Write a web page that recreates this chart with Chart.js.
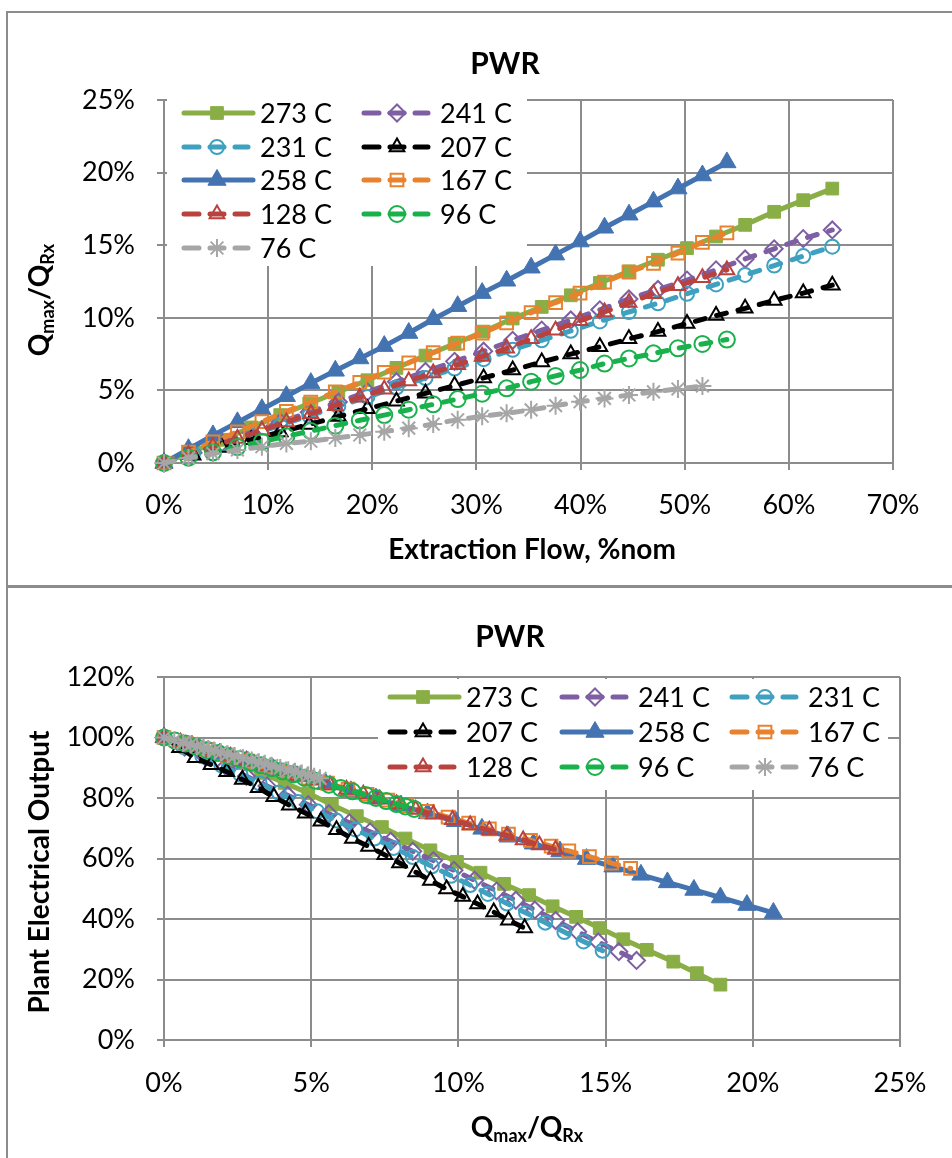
<!DOCTYPE html>
<html><head><meta charset="utf-8">
<script src="https://cdn.jsdelivr.net/npm/chart.js@4.4.1/dist/chart.umd.min.js"></script>
<style>
html,body{margin:0;padding:0;background:#fff;width:952px;height:1158px;overflow:hidden;}
.frame{position:absolute;box-sizing:border-box;border:2px solid #8c8c8c;}
canvas{position:absolute;left:0;}
</style></head><body>
<div class="frame" style="left:6px;top:11px;width:960px;height:577px"></div>
<div class="frame" style="left:6px;top:585px;width:960px;height:600px"></div>
<canvas id="c1" width="952" height="585" style="top:0"></canvas>
<canvas id="c2" width="952" height="570" style="top:588px"></canvas>
<script>
// ---------------- data ----------------
const seriesLabels = ['273 C','241 C','231 C','207 C','258 C','167 C','128 C','96 C','76 C'];

// extraction flow (% nom) — x values of the upper chart
const flowA = [0,2.35,4.7,7.05,9.4,11.75,14.1,16.45,18.8,21.15,23.5,25.85,28.2,30.55,32.9,35.25,37.6,39.95,42.3,44.65,47.0,49.35,51.7,54.05];
const flowB = [0,2.79,5.58,8.37,11.16,13.95,16.74,19.53,22.32,25.11,27.9,30.69,33.48,36.27,39.06,41.85,44.64,47.43,50.22,53.01,55.8,58.59,61.38,64.17];
const flowC = [0,2.35,4.7,7.05,9.4,11.75,14.1,16.45,18.8,21.15,23.5,25.85,28.2,30.55,32.9,35.25,37.6,39.95,42.3,44.65,47.0,49.35,51.7];

// Qmax/QRx (%)
const q273 = [0,0.8,1.6,2.45,3.3,4.1,4.9,5.7,6.55,7.4,8.2,9.05,9.95,10.75,11.55,12.4,13.2,14.0,14.8,15.6,16.4,17.3,18.1,18.9];
const q241 = [0,0.7,1.4,2.1,2.8,3.5,4.2,4.9,5.6,6.3,7.0,7.7,8.45,9.15,9.85,10.55,11.3,11.95,12.6,13.3,14.05,14.75,15.45,16.05];
const q231 = [0,0.65,1.3,1.95,2.6,3.25,3.9,4.55,5.2,5.85,6.5,7.15,7.8,8.45,9.1,9.75,10.4,11.0,11.65,12.3,12.95,13.6,14.25,14.9];
const q207 = [0,0.53,1.06,1.6,2.13,2.66,3.2,3.73,4.26,4.8,5.33,5.86,6.4,6.95,7.5,8.0,8.55,9.05,9.6,10.15,10.65,11.2,11.7,12.25];
const q258 = [0,0.95,1.9,2.8,3.7,4.6,5.5,6.35,7.2,8.05,8.95,9.9,10.8,11.7,12.55,13.45,14.35,15.25,16.2,17.1,18.0,18.9,19.8,20.7];
const q167 = [0,0.75,1.45,2.15,2.85,3.55,4.2,4.9,5.55,6.25,6.9,7.6,8.25,8.95,9.65,10.35,11.05,11.7,12.45,13.15,13.75,14.45,15.2,15.85];
const q128 = [0,0.56,1.13,1.69,2.26,2.82,3.39,3.95,4.52,5.08,5.64,6.2,6.77,7.33,7.9,8.55,9.15,9.8,10.4,11.05,11.65,12.2,12.75,13.3];
const q96  = [0,0.37,0.73,1.1,1.47,1.84,2.2,2.57,2.94,3.3,3.67,4.04,4.4,4.77,5.14,5.6,6.0,6.4,6.85,7.2,7.55,7.9,8.2,8.5];
const q76  = [0,0.35,0.65,0.9,1.12,1.35,1.5,1.72,1.93,2.16,2.4,2.68,2.98,3.22,3.42,3.66,3.95,4.22,4.45,4.68,4.9,5.1,5.3];

// plant electrical output (%)
const p273 = [100,97.2,94.4,91.5,88.3,85.0,81.6,77.8,74.0,70.4,66.6,62.7,58.9,55.3,51.6,47.9,44.2,40.7,37.0,33.3,29.8,25.9,22.1,18.3];
const p241 = [100,96.8,93.6,90.4,87.2,84.0,80.9,77.8,74.8,71.8,68.8,65.7,62.4,59.3,56.1,52.8,49.3,46.2,43.0,39.5,35.8,32.4,29.2,26.3];
const p231 = [100,96.9,93.8,90.8,87.8,84.8,81.7,78.7,75.6,72.6,69.6,66.6,63.5,60.5,57.4,54.3,51.2,48.3,45.1,42.0,38.8,35.7,32.6,29.5];
const p207 = [100,96.6,93.3,91.0,88.7,86.1,83.4,80.4,77.6,75.0,72.3,69.5,66.6,64.0,61.2,58.5,55.5,52.7,49.9,47.4,45.0,42.3,39.6,37.0];
const p258 = [100,97.3,94.7,92.2,89.6,87.1,84.6,82.2,79.8,77.5,74.9,72.3,69.8,67.2,64.9,62.3,59.8,57.3,54.6,52.1,49.6,47.1,44.6,42.0];
const p167 = [100,98.0,96.0,94.1,92.2,90.3,88.5,86.6,84.9,82.9,81.2,79.3,77.5,75.6,73.7,71.7,69.8,68.1,66.0,64.1,62.5,60.6,58.5,56.7];
const p128 = [100,98.4,96.9,95.3,93.7,92.2,90.6,89.0,87.4,85.9,84.3,82.8,81.2,79.6,78.0,76.2,74.6,72.8,71.1,69.3,67.6,66.1,64.5,63.0];
const p96  = [100,99.0,98.0,96.9,95.9,94.9,93.9,92.9,91.8,90.8,89.8,88.8,87.8,86.7,85.7,84.4,83.3,82.2,81.0,80.0,79.0,78.0,77.2,76.4];
const p76  = [100,99.1,98.3,97.7,97.1,96.6,96.2,95.6,95.1,94.5,93.9,93.2,92.4,91.8,91.3,90.7,89.9,89.2,88.7,88.1,87.5,87.0,86.5];

// tick values
const topXTicks = [0,10,20,30,40,50,60,70];
const topYTicks = [0,5,10,15,20,25];
const botXTicks = [0,5,10,15,20,25];
const botYTicks = [0,20,40,60,80,100,120];

// ---------------- styles ----------------
const flows = [flowB,flowB,flowB,flowB,flowA,flowA,flowA,flowA,flowC];
const qs = [q273,q241,q231,q207,q258,q167,q128,q96,q76];
const ps = [p273,p241,p231,p207,p258,p167,p128,p96,p76];
const styles = [
  {color:'#8AAE46', dash:false, shape:'rect',     r:9,   fill:true},
  {color:'#7E5FA3', dash:true,  shape:'rectRot',  r:8.5, fill:false},
  {color:'#3FA0BF', dash:true,  shape:'circle',   r:7,   fill:false},
  {color:'#000000', dash:true,  shape:'triangle', r:8.5, fill:false},
  {color:'#4473B2', dash:false, shape:'triangle', r:10.5,fill:true},
  {color:'#E9822F', dash:true,  shape:'rect',     r:9,   fill:false},
  {color:'#B9423F', dash:true,  shape:'triangle', r:8.5, fill:false},
  {color:'#19B14C', dash:true,  shape:'circle',   r:8,   fill:false},
  {color:'#A6A6A6', dash:true,  shape:'star',     r:9,   fill:false}
];
const FONT = 'Lato';
const GRID = '#8c8c8c';

function makeDatasets(xsArr, ysArr) {
  return seriesLabels.map((lab, i) => {
    const s = styles[i];
    const xs = xsArr[i], ys = ysArr[i];
    return {
      label: lab,
      data: ys.map((y, k) => ({x: xs[k], y: y})),
      borderColor: s.color, backgroundColor: s.color,
      borderWidth: 5, borderDash: s.dash ? [10, 12] : [],
      borderCapStyle: 'round', borderJoinStyle: 'round',
      pointStyle: s.shape, pointRadius: s.r, pointHoverRadius: s.r,
      pointBorderColor: s.color,
      pointBackgroundColor: s.fill ? s.color : 'rgba(0,0,0,0)',
      pointBorderWidth: s.fill ? 1 : 2,
      showLine: true, tension: 0, clip: false, order: seriesLabels.length - 1 - i
    };
  });
}

function drawMarker(ctx, s, x, y) {
  ctx.save();
  ctx.setLineDash([]);
  ctx.strokeStyle = s.color;
  ctx.fillStyle = s.fill ? s.color : 'rgba(0,0,0,0)';
  ctx.lineWidth = s.fill ? 1 : 2;
  Chart.helpers.drawPoint(ctx, {pointStyle: s.shape, radius: s.r, rotation: 0, borderWidth: ctx.lineWidth}, x, y);
  ctx.restore();
}

function drawSub(ctx, parts, cx, cy, rotate) {
  ctx.save();
  ctx.translate(cx, cy);
  if (rotate) ctx.rotate(-Math.PI / 2);
  ctx.fillStyle = '#000';
  ctx.textBaseline = 'middle';
  ctx.textAlign = 'left';
  const mainF = 'bold 28px ' + FONT, subF = 'bold 18px ' + FONT;
  let W = 0;
  parts.forEach(p => { ctx.font = p[1] ? subF : mainF; W += ctx.measureText(p[0]).width; });
  let x = -W / 2;
  parts.forEach(p => {
    ctx.font = p[1] ? subF : mainF;
    ctx.fillText(p[0], x, p[1] ? 8 : 0);
    x += ctx.measureText(p[0]).width;
  });
  ctx.restore();
}

function decorPlugin(cfg) {
  return {
    id: 'decor' + cfg.key,
    beforeDatasetsDraw(chart) {
      const ctx = chart.ctx;
      ctx.save();
      const b = cfg.legendBox;
      ctx.fillStyle = '#fff';
      ctx.fillRect(b[0], b[1], b[2] - b[0], b[3] - b[1]);
      seriesLabels.forEach((lab, i) => {
        const col = i % cfg.cols, row = Math.floor(i / cfg.cols);
        const x0 = cfg.colX[col], y = cfg.rowY[row];
        const s = styles[i];
        ctx.save();
        ctx.strokeStyle = s.color;
        ctx.lineWidth = 5;
        ctx.lineCap = 'round';
        ctx.beginPath();
        if (s.dash) {
          ctx.moveTo(x0 + 2, y); ctx.lineTo(x0 + 17, y);
          ctx.moveTo(x0 + 28, y); ctx.lineTo(x0 + 42, y);
          ctx.moveTo(x0 + 53, y); ctx.lineTo(x0 + 66, y);
        } else {
          ctx.moveTo(x0 + 2, y); ctx.lineTo(x0 + 71, y);
        }
        ctx.stroke();
        ctx.restore();
        drawMarker(ctx, s, x0 + 35, y);
        ctx.fillStyle = '#000';
        ctx.font = '27px ' + FONT;
        ctx.textBaseline = 'middle';
        ctx.textAlign = 'left';
        ctx.fillText(lab, x0 + 78, y + 1);
      });
      ctx.fillStyle = '#000';
      ctx.font = 'bold 30px ' + FONT;
      ctx.textAlign = 'center';
      ctx.textBaseline = 'middle';
      ctx.fillText('PWR', cfg.title[0], cfg.title[1]);
      if (cfg.xTitle.parts) drawSub(ctx, cfg.xTitle.parts, cfg.xTitle.pos[0], cfg.xTitle.pos[1], false);
      else { ctx.font = 'bold 28px ' + FONT; ctx.fillText(cfg.xTitle.text, cfg.xTitle.pos[0], cfg.xTitle.pos[1]); }
      if (cfg.yTitle.parts) drawSub(ctx, cfg.yTitle.parts, cfg.yTitle.pos[0], cfg.yTitle.pos[1], true);
      else {
        ctx.save();
        ctx.translate(cfg.yTitle.pos[0], cfg.yTitle.pos[1]);
        ctx.rotate(-Math.PI / 2);
        ctx.font = 'bold 28px ' + FONT;
        ctx.textAlign = 'center'; ctx.textBaseline = 'middle';
        ctx.fillText(cfg.yTitle.text, 0, 0);
        ctx.restore();
      }
      ctx.restore();
    }
  };
}

function axis(min, max, ticks, padding, fit, horizontal) {
  return {
    type: 'linear', min: min, max: max,
    afterBuildTicks: sc => { sc.ticks = ticks.map(v => ({value: v})); },
    afterFit: sc => { if (horizontal) sc.height = fit; else sc.width = fit; },
    ticks: {callback: v => v + '%', font: {family: FONT, size: 27}, color: '#000', padding: padding, maxRotation: 0, autoSkip: false},
    grid: {color: GRID, lineWidth: 2, tickLength: 7, tickWidth: 2},
    border: {color: GRID, width: 2}
  };
}

Chart.defaults.font.family = FONT;

new Chart(document.getElementById('c1'), {
  type: 'scatter',
  data: {datasets: makeDatasets(flows, qs)},
  options: {
    responsive: false, animation: false,
    layout: {padding: {top: 100, right: 59, left: 0, bottom: 0}},
    plugins: {legend: {display: false}, tooltip: {enabled: false}},
    scales: {
      x: axis(0, 70, topXTicks, 19, 122, true),
      y: axis(0, 25, topYTicks, 22, 164, false)
    }
  },
  plugins: [decorPlugin({
    key: 1, cols: 2, legendBox: [167, 97, 527, 266],
    colX: [182, 362], rowY: [113, 147, 180, 214, 248],
    title: [505, 64],
    xTitle: {text: 'Extraction Flow, %nom', pos: [532, 550]},
    yTitle: {parts: [['Q', false], ['max', true], ['/Q', false], ['Rx', true]], pos: [40, 300]}
  })]
});

new Chart(document.getElementById('c2'), {
  type: 'scatter',
  data: {datasets: makeDatasets(qs, ps)},
  options: {
    responsive: false, animation: false,
    layout: {padding: {top: 89, right: 52, left: 0, bottom: 0}},
    plugins: {legend: {display: false}, tooltip: {enabled: false}},
    scales: {
      x: axis(0, 25, botXTicks, 20, 118, true),
      y: axis(0, 120, botYTicks, 22, 164, false)
    }
  },
  plugins: [decorPlugin({
    key: 2, cols: 3, legendBox: [378, 91, 888, 202],
    colX: [388, 560, 730], rowY: [109, 144, 179],
    title: [510, 49],
    xTitle: {parts: [['Q', false], ['max', true], ['/Q', false], ['Rx', true]], pos: [527, 540]},
    yTitle: {text: 'Plant Electrical Output', pos: [40, 284]}
  })]
});
</script></body></html>
